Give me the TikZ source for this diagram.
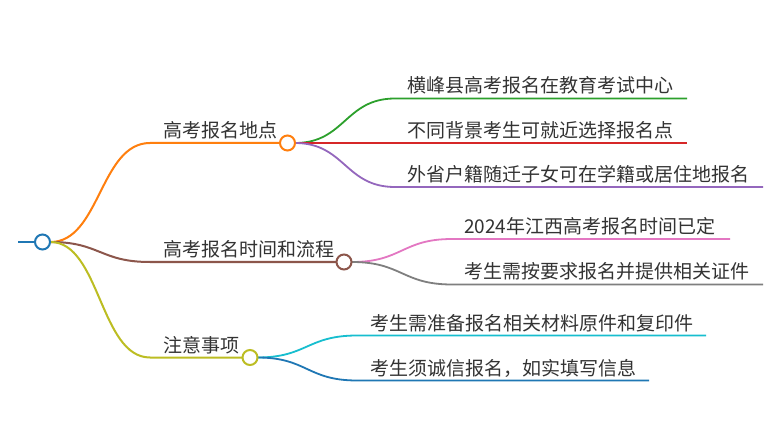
\documentclass[tikz,border=0pt]{standalone}
\usepackage{fontspec}
\setmainfont{Noto Sans CJK SC}
\definecolor{cblue}{HTML}{1F77B4}
\definecolor{corange}{HTML}{FF7F0E}
\definecolor{cgreen}{HTML}{2CA02C}
\definecolor{cred}{HTML}{D62728}
\definecolor{cpurple}{HTML}{9467BD}
\definecolor{cbrown}{HTML}{8C564B}
\definecolor{cpink}{HTML}{E377C2}
\definecolor{cgray}{HTML}{7F7F7F}
\definecolor{colive}{HTML}{BCBD22}
\definecolor{ccyan}{HTML}{17BECF}
\definecolor{ctext}{HTML}{333333}
\begin{document}
\begin{tikzpicture}[x=1pt,y=-1pt,
  dot/.style={circle,draw,line width=2pt,fill=white,minimum size=15pt,inner sep=0pt},
  lbl/.style={anchor=base west,inner sep=0pt,text=ctext,font=\fontsize{19}{22}\selectfont},
  edge/.style={line width=2pt},
  leaf/.style={line width=1.8pt}]
\useasboundingbox (0,0) rectangle (780,441);
\fill[white] (0,0) rectangle (780,441);
% junction coordinates
\coordinate (s0) at (18,242);
\coordinate (j1) at (150,143);
\coordinate (j2) at (150,262);
\coordinate (j3) at (150,357.5);
\coordinate (k1) at (395,98.5);   \coordinate (e1) at (687,98.5);
\coordinate (k2) at (395,143);    \coordinate (e2) at (687,143);
\coordinate (k3) at (395,187);    \coordinate (e3) at (763,187);
\coordinate (k4) at (452,239);    \coordinate (e4) at (730,239);
\coordinate (k5) at (452,284.5);  \coordinate (e5) at (763,284.5);
\coordinate (k6) at (357,335.5);  \coordinate (e6) at (706,335.5);
\coordinate (k7) at (357,380.5);  \coordinate (e7) at (649,380.5);
% main edges
\draw[edge,cblue] (s0) -- (34.5,242);
\draw[edge,corange] (50.5,242) .. controls (100,242) and (100,143) .. (j1) -- (280,143);
\draw[edge,cbrown] (50.5,242) .. controls (100,242) and (100,262) .. (j2) -- (336,262);
\draw[edge,colive] (50.5,242) .. controls (100,242) and (100,357.5) .. (j3) -- (242,357.5);
% leaf edges
\draw[leaf,cgreen] (295,143) .. controls (345,143) and (345,98.5) .. (k1) -- (e1);
\draw[leaf,cred] (295,143) -- (k2) -- (e2);
\draw[leaf,cpurple] (295,143) .. controls (345,143) and (345,187) .. (k3) -- (e3);
\draw[leaf,cpink] (352,262) .. controls (402,262) and (402,239) .. (k4) -- (e4);
\draw[leaf,cgray] (352,262) .. controls (402,262) and (402,284.5) .. (k5) -- (e5);
\draw[leaf,ccyan] (257.5,357.5) .. controls (307,357.5) and (307,335.5) .. (k6) -- (e6);
\draw[leaf,cblue] (257.5,357.5) .. controls (307,357.5) and (307,380.5) .. (k7) -- (e7);
% dots
\node[dot,draw=cblue] (root) at (42.5,242) {};
\node[dot,draw=corange] (b1) at (287.5,143) {};
\node[dot,draw=cbrown] (b2) at (344,262) {};
\node[dot,draw=colive] (b3) at (250,357.5) {};
% labels
\node[lbl] (t1) at (163,137.5) {高考报名地点};
\node[lbl] (t2) at (163,256.5) {高考报名时间和流程};
\node[lbl] (t3) at (163,352) {注意事项};
\node[lbl] (c1) at (407,92.5) {横峰县高考报名在教育考试中心};
\node[lbl] (c2) at (407,137.5) {不同背景考生可就近选择报名点};
\node[lbl] (c3) at (407,181.5) {外省户籍随迁子女可在学籍或居住地报名};
\node[lbl] (c4) at (464,233.5) {2024年江西高考报名时间已定};
\node[lbl] (c5) at (464,279) {考生需按要求报名并提供相关证件};
\node[lbl] (c6) at (370,330) {考生需准备报名相关材料原件和复印件};
\node[lbl] (c7) at (370,375) {考生须诚信报名，如实填写信息};
\end{tikzpicture}
\end{document}
